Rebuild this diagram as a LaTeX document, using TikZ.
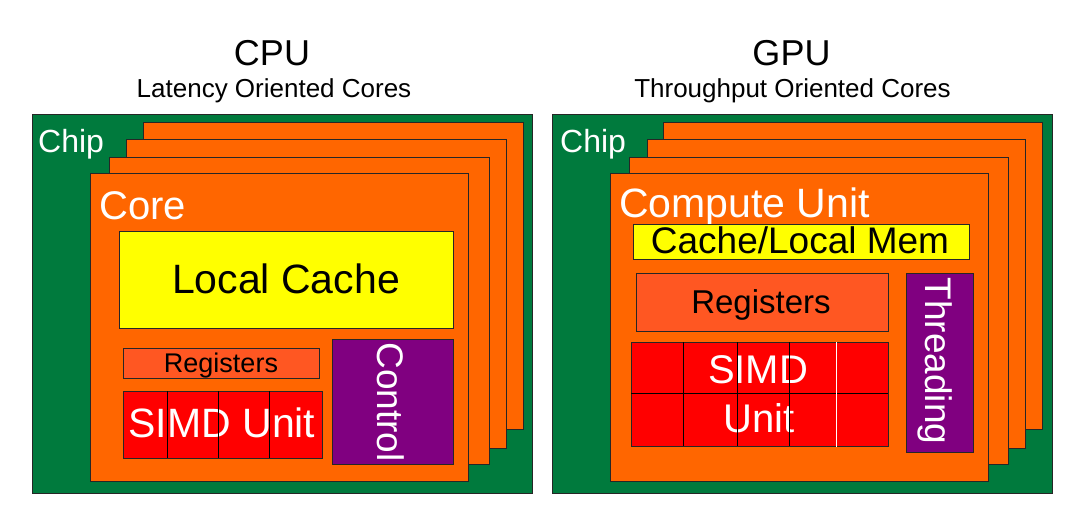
\documentclass[tikz,border=0pt]{standalone}
\usepackage{fontspec}
\setmainfont{Liberation Sans}
\definecolor{chipgreen}{RGB}{0,122,61}
\definecolor{coreorange}{RGB}{255,102,0}
\definecolor{regorange}{RGB}{255,87,34}
\definecolor{simdred}{RGB}{255,0,0}
\definecolor{cacheyellow}{RGB}{255,255,0}
\definecolor{ctrlpurple}{RGB}{128,0,128}
\newcommand{\fsz}[1]{\fontsize{#1}{#1}\selectfont}
\begin{document}
\begin{tikzpicture}[x=1pt,y=-1pt,
  box/.style={draw=black!85,line width=0.8pt},
  chipbox/.style={box,fill=chipgreen},
  corebox/.style={box,fill=coreorange},
  regbox/.style={box,fill=regorange},
  simdbox/.style={box,fill=simdred},
  cachebox/.style={box,fill=cacheyellow},
  ctrlbox/.style={box,fill=ctrlpurple},
  grid/.style={draw=black,line width=0.7pt},
  lbl/.style={inner sep=0pt,anchor=base},
  wlbl/.style={inner sep=0pt,anchor=base west,text=white}]
\useasboundingbox[fill=white] (0,0) rectangle (1080,532);

% ---------- CPU ----------
\node[lbl] (cpu) at (272,66) {\fsz{36}CPU};
\node[lbl] (cpusub) at (274,98) {\fsz{26}Latency Oriented Cores};
\draw[chipbox] (32,114) rectangle (532,493);
\node[wlbl] (cpuchip) at (38,153) {\fsz{32}Chip};
\draw[corebox] (143,122) rectangle (523,429);
\draw[corebox] (126,139) rectangle (506,448);
\draw[corebox] (109,157) rectangle (489,464);
\draw[corebox] (90,173) rectangle (468,481);
\node[wlbl] (core) at (99,220) {\fsz{40}Core};
\draw[cachebox] (119,231) rectangle (453,328);
\node[lbl] (lcache) at (286,293) {\fsz{41}Local Cache};
\draw[regbox] (123,348) rectangle (319,378);
\node[lbl] (cpureg) at (221,372) {\fsz{27}Registers};
\draw[simdbox] (123,391) rectangle (322,458);
\node[lbl,text=white] (cpusimd) at (222,437) {\fsz{41}SIMD Unit};
\draw[grid] (167,391) -- (167,458) (218,391) -- (218,458) (269,391) -- (269,458);
\draw[ctrlbox] (332,339) rectangle (453,464);
\node[inner sep=0pt,rotate=-90,text=white] (ctrl) at (391,402) {\fsz{37}Control};

% ---------- GPU ----------
\node[lbl] (gpu) at (791.5,66) {\fsz{36}GPU};
\node[lbl] (gpusub) at (792.5,98) {\fsz{26}Throughput Oriented Cores};
\draw[chipbox] (552,114) rectangle (1052,493);
\node[wlbl] (gpuchip) at (560,153) {\fsz{32}Chip};
\draw[corebox] (663,122) rectangle (1042,429);
\draw[corebox] (647,139) rectangle (1025,448);
\draw[corebox] (629,157) rectangle (1008,464);
\draw[corebox] (610,173) rectangle (988,481);
\node[wlbl] (cu) at (619,218) {\fsz{41}Compute Unit};
\draw[cachebox] (633,224) rectangle (969,259);
\node[lbl] (gcache) at (800,254) {\fsz{37}Cache/Local Mem};
\draw[regbox] (636,273) rectangle (888,331);
\node[lbl] (gpureg) at (761,313) {\fsz{33}Registers};
\draw[simdbox] (631,342) rectangle (888,446);
\node[lbl,text=white] (gsimd) at (758,383) {\fsz{40}SIMD};
\node[lbl,text=white] (gunit) at (759,432) {\fsz{40}Unit};
\draw[grid] (631,393) -- (888,393);
\draw[grid] (683,342) -- (683,446) (737,342) -- (737,446) (789,342) -- (789,446);
\draw[white,line width=0.8pt] (836,342) -- (836,447);
\draw[ctrlbox] (906,273) rectangle (973,452);
\node[inner sep=0pt,rotate=-90,text=white] (thr) at (935,361) {\fsz{37}Threading};
\end{tikzpicture}
\end{document}
